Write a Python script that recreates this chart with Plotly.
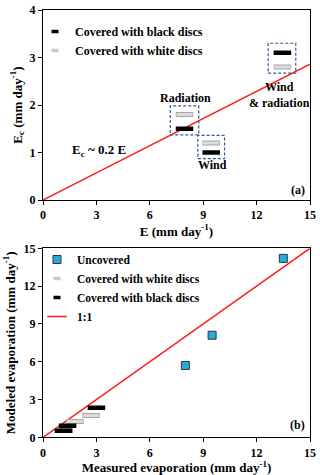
import plotly.graph_objects as go

# ---- panel (a): Ec vs E ----
black_e = [13.45, 7.95, 9.45]
black_ec = [3.1, 1.5, 1.0]
white_e = [13.45, 7.95, 9.45]
white_ec = [2.8, 1.8, 1.2]
fit_e = [0, 15]
fit_ec = [0, 2.86]

# dashed boxes around each treatment group: x0, x1, y0, y1
box_x0 = [12.65, 7.15, 8.7]
box_x1 = [14.2, 8.75, 10.2]
box_y0 = [2.67, 1.37, 0.87]
box_y1 = [3.3, 1.98, 1.36]
group_labels = ["Wind<br>& radiation", "Radiation", "Wind"]
label_x = [13.3, 8.0, 9.5]
label_y = [2.2, 2.15, 0.74]

# ---- panel (b): modeled vs measured ----
unc_meas = [8.0, 9.5, 13.5]
unc_mod = [5.7, 8.1, 14.2]
white_meas = [1.2, 1.8, 2.7]
white_mod = [0.56, 1.25, 1.73]
black_meas = [1.15, 1.38, 3.0]
black_mod = [0.52, 0.92, 2.34]
one_to_one = [0, 15]

FONT = "Liberation Serif"
RED = "#ff1a1a"
BOX = "#2e5a9c"
W, H = 320, 475


def px_x(p):
    return p / W


def px_y(p):
    return 1 - p / H


fig = go.Figure()


def dash_traces(x, y, xa, ya, white):
    # white discs: grey outline + light fill, black discs: solid black
    if white:
        fig.add_trace(go.Scatter(x=x, y=y, xaxis=xa, yaxis=ya, mode="markers", showlegend=False,
                                 hoverinfo="skip",
                                 marker=dict(symbol="line-ew", size=12.5,
                                             line=dict(width=5, color="#a6a6a6"))))
        fig.add_trace(go.Scatter(x=x, y=y, xaxis=xa, yaxis=ya, mode="markers", showlegend=False,
                                 marker=dict(symbol="line-ew", size=11.5,
                                             line=dict(width=3, color="#dcdcdc"))))
    else:
        fig.add_trace(go.Scatter(x=x, y=y, xaxis=xa, yaxis=ya, mode="markers", showlegend=False,
                                 marker=dict(symbol="line-ew", size=12.5,
                                             line=dict(width=4.5, color="black"))))


def legend_dash(name, color, legend, size=5, width=3.5):
    fig.add_trace(go.Scatter(x=[None], y=[None], mode="markers", name=name, legend=legend,
                             marker=dict(symbol="line-ew", size=size,
                                         line=dict(width=width, color=color))))


# panel (a)
fig.add_trace(go.Scatter(x=fit_e, y=fit_ec, mode="lines", showlegend=False,
                         line=dict(color=RED, width=1.5)))
dash_traces(white_e, white_ec, "x", "y", True)
dash_traces(black_e, black_ec, "x", "y", False)
legend_dash("Covered with black discs", "black", "legend")
legend_dash("Covered with white discs", "#c8c8c8", "legend")

# panel (b)
fig.add_trace(go.Scatter(x=unc_meas, y=unc_mod, xaxis="x2", yaxis="y2", mode="markers",
                         name="Uncovered", legend="legend2",
                         marker=dict(symbol="square", size=8, color="#29a9e1",
                                     line=dict(width=1, color="#333333"))))
legend_dash("Covered with white discs", "#c8c8c8", "legend2")
legend_dash("Covered with black discs", "black", "legend2")
legend_dash("1:1", RED, "legend2", size=14, width=1.5)
fig.add_trace(go.Scatter(x=one_to_one, y=one_to_one, xaxis="x2", yaxis="y2", mode="lines",
                         showlegend=False, line=dict(color=RED, width=1.5)))
dash_traces(white_meas, white_mod, "x2", "y2", True)
dash_traces(black_meas, black_mod, "x2", "y2", False)

for i in range(len(box_x0)):
    fig.add_shape(type="rect", xref="x", yref="y", x0=box_x0[i], x1=box_x1[i],
                  y0=box_y0[i], y1=box_y1[i], line=dict(color=BOX, width=1.2, dash="3px,2px"))
    fig.add_annotation(x=label_x[i], y=label_y[i], xref="x", yref="y", text=group_labels[i],
                       showarrow=False, font=dict(family=FONT, size=12, weight="bold", color="black"))

fig.add_annotation(x=3.15, y=1.05, xref="x", yref="y", text="E<sub>c</sub> ~ 0.2 E",
                   showarrow=False, font=dict(family=FONT, size=13, weight="bold", color="black"))
fig.add_annotation(x=14.3, y=0.2, xref="x", yref="y", text="(a)", showarrow=False,
                   font=dict(family=FONT, size=12, weight="bold", color="black"))
fig.add_annotation(x=14.3, y=1.0, xref="x2", yref="y2", text="(b)", showarrow=False,
                   font=dict(family=FONT, size=12, weight="bold", color="black"))

axis_style = dict(showline=True, linecolor="black", linewidth=1, mirror=True, ticks="outside",
                  ticklen=4, tickcolor="black", showgrid=False, zeroline=False, automargin=False,
                  tickfont=dict(family=FONT, size=12, weight="bold", color="black"))
title_font = dict(family=FONT, size=13, weight="bold", color="black")

xdom = [px_x(43), px_x(310)]
fig.update_layout(
    width=W, height=H, template="none",
    margin=dict(l=0, r=0, t=0, b=0),
    paper_bgcolor="white", plot_bgcolor="white",
    xaxis=dict(domain=xdom, range=[0, 15], tickvals=[0, 3, 6, 9, 12, 15], anchor="y",
               title=dict(text="E (mm day<sup>-1</sup>)", font=title_font, standoff=2), **axis_style),
    yaxis=dict(domain=[px_y(200), px_y(10)], range=[0, 4], tickvals=[0, 1, 2, 3, 4], anchor="x",
               title=dict(text="E<sub>c</sub> (mm day<sup>-1</sup>)", font=title_font, standoff=4),
               **axis_style),
    xaxis2=dict(domain=xdom, range=[0, 15], tickvals=[0, 3, 6, 9, 12, 15], anchor="y2",
                title=dict(text="Measured evaporation (mm day<sup>-1</sup>)", font=title_font, standoff=5),
                **axis_style),
    yaxis2=dict(domain=[px_y(437.3), px_y(248.3)], range=[0, 15], tickvals=[0, 3, 6, 9, 12, 15],
                anchor="x2",
                title=dict(text="Modeled evaporation (mm day<sup>-1</sup>)", font=title_font, standoff=5),
                **axis_style),
    legend=dict(x=px_x(35), y=px_y(17), xanchor="left", yanchor="top", bgcolor="rgba(0,0,0,0)",
                font=dict(family=FONT, size=12, weight="bold", color="black"), tracegroupgap=0),
    legend2=dict(x=px_x(37), y=px_y(245), xanchor="left", yanchor="top", bgcolor="rgba(0,0,0,0)",
                 font=dict(family=FONT, size=11.5, weight="bold", color="black"), tracegroupgap=0),
    showlegend=True,
)

fig.write_html("out.html", config={"displayModeBar": False},
               post_script="document.body.style.margin='0px';")
